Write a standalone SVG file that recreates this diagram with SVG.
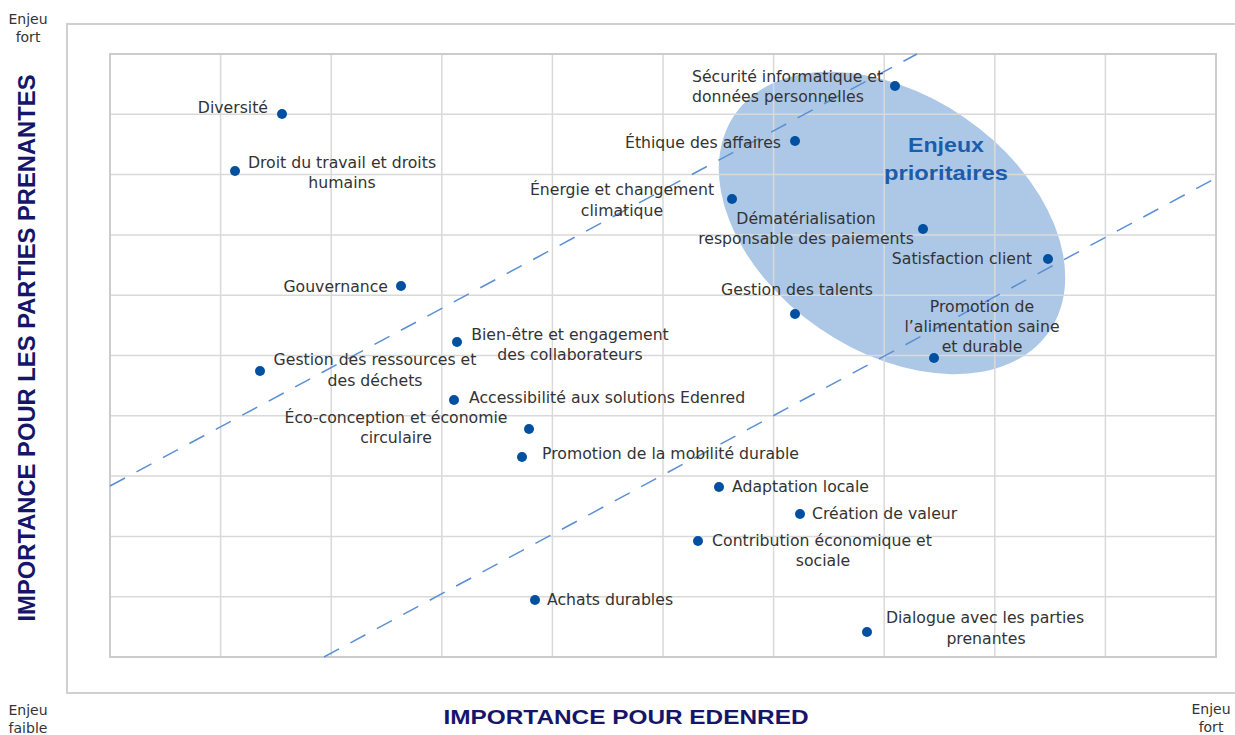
<svg xmlns="http://www.w3.org/2000/svg" width="1235" height="735" viewBox="0 0 1235 735">
<style>
.lbl{font-family:"DejaVu Sans","Liberation Sans",sans-serif;font-size:15.7px;fill:#333333}
.m{text-anchor:middle}
.e{text-anchor:end}
.dot{fill:#0050a2}
.grid{stroke:#d9d9d9;stroke-width:1.5;fill:none}
.dash{stroke:#5b8fd4;stroke-width:1.5;stroke-dasharray:17 13;fill:none}
.axis{font-family:"Liberation Sans",Arial,sans-serif;font-weight:bold;fill:#15156a}
.small{font-family:"DejaVu Sans","Liberation Sans",sans-serif;font-size:14px;fill:#333333;text-anchor:middle}
</style>
<rect width="1235" height="735" fill="#ffffff"/>
<path d="M1240 24 H67 V693 H1240" fill="none" stroke="#d0d0d0" stroke-width="2"/>
<g id="zone">
<ellipse cx="892" cy="223" rx="191" ry="128" transform="rotate(34.6 892 223)" fill="#adc8e6"/>
</g>
<g id="grid" class="grid">
<path d="M220.6 54V657M331.2 54V657M441.8 54V657M552.4 54V657M663 54V657M773.6 54V657M884.2 54V657M994.8 54V657M1105.4 54V657"/>
<path d="M110 114.3H1216M110 174.6H1216M110 234.9H1216M110 295.2H1216M110 355.5H1216M110 415.8H1216M110 476.1H1216M110 536.4H1216M110 596.7H1216"/>
<rect x="110" y="54" width="1106" height="603" stroke="#cccccc" stroke-width="2"/>
</g>
<g id="connectors">
<line class="dash" x1="110" y1="486" x2="917" y2="54"/>
<line class="dash" x1="324" y1="657" x2="1216" y2="178"/>
</g>
<g id="axes">
<text class="small" x="28" y="24">Enjeu</text>
<text class="small" x="28" y="42">fort</text>
<text class="small" x="28" y="715">Enjeu</text>
<text class="small" x="28" y="733">faible</text>
<text class="small" x="1211" y="714">Enjeu</text>
<text class="small" x="1211" y="732">fort</text>
<text class="axis" x="626" y="724" font-size="21" text-anchor="middle" textLength="365" lengthAdjust="spacingAndGlyphs">IMPORTANCE POUR EDENRED</text>
<text class="axis" transform="translate(35 348) rotate(-90)" x="0" y="0" font-size="23" text-anchor="middle" textLength="547" lengthAdjust="spacingAndGlyphs">IMPORTANCE POUR LES PARTIES PRENANTES</text>
</g>
<g id="title-zone">
<text x="946" y="152" font-family="Liberation Sans,Arial,sans-serif" font-weight="bold" font-size="21" fill="#1c5dab" text-anchor="middle" textLength="76" lengthAdjust="spacingAndGlyphs">Enjeux</text>
<text x="946" y="180" font-family="Liberation Sans,Arial,sans-serif" font-weight="bold" font-size="21" fill="#1c5dab" text-anchor="middle" textLength="124" lengthAdjust="spacingAndGlyphs">prioritaires</text>
</g>
<g id="n-diversite"><circle class="dot" cx="282" cy="114" r="5"/><text class="lbl e" x="268" y="113">Diversité</text></g>
<g id="n-droit"><circle class="dot" cx="235" cy="171" r="5"/><text class="lbl m" x="342" y="168">Droit du travail et droits</text><text class="lbl m" x="342" y="188">humains</text></g>
<g id="n-gouvernance"><circle class="dot" cx="401" cy="286" r="5"/><text class="lbl e" x="388" y="292">Gouvernance</text></g>
<g id="n-bienetre"><circle class="dot" cx="457" cy="342" r="5"/><text class="lbl m" x="570" y="340">Bien-être et engagement</text><text class="lbl m" x="570" y="360">des collaborateurs</text></g>
<g id="n-ressources"><circle class="dot" cx="260" cy="371" r="5"/><text class="lbl m" x="375" y="365">Gestion des ressources et</text><text class="lbl m" x="375" y="386">des déchets</text></g>
<g id="n-accessibilite"><circle class="dot" cx="454" cy="400" r="5"/><text class="lbl" x="469" y="403">Accessibilité aux solutions Edenred</text></g>
<g id="n-eco"><circle class="dot" cx="529" cy="429" r="5"/><text class="lbl m" x="396" y="423">Éco-conception et économie</text><text class="lbl m" x="396" y="443">circulaire</text></g>
<g id="n-mobilite"><circle class="dot" cx="522" cy="457" r="5"/><text class="lbl" x="542" y="459">Promotion de la mobilité durable</text></g>
<g id="n-adaptation"><circle class="dot" cx="719" cy="487" r="5"/><text class="lbl" x="732" y="492">Adaptation locale</text></g>
<g id="n-creation"><circle class="dot" cx="800" cy="514" r="5"/><text class="lbl" x="812" y="519">Création de valeur</text></g>
<g id="n-contribution"><circle class="dot" cx="698" cy="541" r="5"/><text class="lbl m" x="822" y="546">Contribution économique et</text><text class="lbl m" x="823" y="566">sociale</text></g>
<g id="n-achats"><circle class="dot" cx="535" cy="600" r="5"/><text class="lbl" x="547" y="605">Achats durables</text></g>
<g id="n-dialogue"><circle class="dot" cx="867" cy="632" r="5"/><text class="lbl m" x="985" y="623">Dialogue avec les parties</text><text class="lbl m" x="986" y="644">prenantes</text></g>
<g id="n-securite"><circle class="dot" cx="895" cy="86" r="5"/><text class="lbl" x="692" y="82">Sécurité informatique et</text><text class="lbl" x="692" y="102">données personnelles</text></g>
<g id="n-ethique"><circle class="dot" cx="795" cy="141" r="5"/><text class="lbl e" x="781" y="148">Éthique des affaires</text></g>
<g id="n-energie"><circle class="dot" cx="732" cy="199" r="5"/><text class="lbl m" x="622" y="195">Énergie et changement</text><text class="lbl m" x="622" y="216">climatique</text></g>
<g id="n-demat"><circle class="dot" cx="923" cy="229" r="5"/><text class="lbl m" x="806" y="224">Dématérialisation</text><text class="lbl m" x="806" y="244">responsable des paiements</text></g>
<g id="n-satisfaction"><circle class="dot" cx="1048" cy="259" r="5"/><text class="lbl e" x="1032" y="264">Satisfaction client</text></g>
<g id="n-talents"><circle class="dot" cx="795" cy="314" r="5"/><text class="lbl m" x="797" y="295">Gestion des talents</text></g>
<g id="n-alimentation"><circle class="dot" cx="934" cy="358" r="5"/><text class="lbl m" x="982" y="312">Promotion de</text><text class="lbl m" x="982" y="332">l’alimentation saine</text><text class="lbl m" x="982" y="352">et durable</text></g>
</svg>
